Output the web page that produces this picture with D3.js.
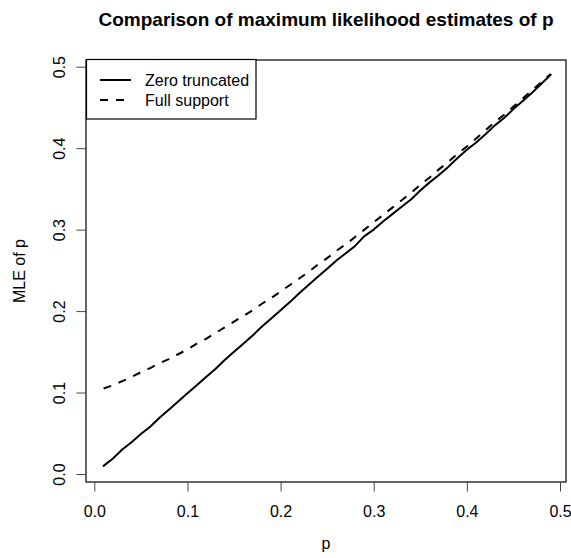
<!DOCTYPE html>
<html><head><meta charset="utf-8">
<script src="https://cdn.jsdelivr.net/npm/d3@7"></script>
<style>body{margin:0;background:#fff}svg{display:block}text{font-family:"Liberation Sans",Arial,Helvetica,sans-serif;fill:#000}</style>
</head><body>
<script>
const pValues = [0.01,0.02,0.03,0.04,0.05,0.06,0.07,0.08,0.09,0.10,0.11,0.12,0.13,0.14,0.15,0.16,0.17,0.18,0.19,0.20,0.21,0.22,0.23,0.24,0.25,0.26,0.27,0.28,0.29,0.30,0.31,0.32,0.33,0.34,0.35,0.36,0.37,0.38,0.39,0.40,0.41,0.42,0.43,0.44,0.45,0.46,0.47,0.48,0.49];
const zeroTruncated = [0.010,0.019,0.030,0.039,0.049,0.058,0.069,0.079,0.089,0.099,0.109,0.119,0.129,0.140,0.150,0.160,0.170,0.181,0.191,0.201,0.211,0.222,0.232,0.242,0.252,0.262,0.271,0.280,0.292,0.300,0.310,0.319,0.328,0.337,0.348,0.358,0.367,0.377,0.388,0.398,0.407,0.417,0.428,0.437,0.448,0.458,0.468,0.479,0.490];
const fullSupport = [0.105,0.109,0.114,0.119,0.125,0.130,0.136,0.141,0.147,0.153,0.160,0.166,0.173,0.180,0.187,0.194,0.201,0.209,0.216,0.224,0.232,0.240,0.248,0.257,0.265,0.274,0.282,0.291,0.300,0.309,0.318,0.327,0.336,0.345,0.355,0.364,0.374,0.383,0.393,0.402,0.412,0.422,0.432,0.441,0.451,0.461,0.471,0.481,0.491];
const xTicks = [0.0,0.1,0.2,0.3,0.4,0.5];
const yTicks = [0.0,0.1,0.2,0.3,0.4,0.5];
const seriesNames = ["Zero truncated","Full support"];
const titleText = "Comparison of maximum likelihood estimates of p";
const xLabel = "p", yLabel = "MLE of p";

const W = 571, H = 558;
const box = {left:86, right:566, top:60, bottom:482};
const svg = d3.select("body").append("svg").attr("width",W).attr("height",H);
const x = d3.scaleLinear().domain([0,0.5]).range([94.3,560]);
const y = d3.scaleLinear().domain([0,0.5]).range([474,66.7]);

// frame
svg.append("rect").attr("x",box.left).attr("y",box.top).attr("width",box.right-box.left).attr("height",box.bottom-box.top)
  .attr("fill","none").attr("stroke","#000").attr("stroke-width",1.2);

// x axis
const xa = svg.append("g").attr("transform",`translate(0,${box.bottom})`)
  .call(d3.axisBottom(x).tickValues(xTicks).tickFormat(d3.format(".1f")).tickSize(9.5).tickPadding(10));
xa.select(".domain").remove();
xa.selectAll("line").attr("stroke","#444");
xa.selectAll("text").attr("font-size","16px").attr("dy",null).attr("y",35).attr("font-family",'"Liberation Sans",Arial,sans-serif');

// y axis
const ya = svg.append("g").attr("transform",`translate(${box.left},0)`)
  .call(d3.axisLeft(y).tickValues(yTicks).tickFormat(d3.format(".1f")).tickSize(9.5));
ya.select(".domain").remove();
ya.selectAll("line").attr("stroke","#444");
ya.selectAll("text").attr("font-size","16px").attr("font-family",'"Liberation Sans",Arial,sans-serif')
  .attr("x",null).attr("dy",null).attr("text-anchor","middle")
  .attr("transform","translate(-21.5,0) rotate(-90)");

// titles
svg.append("text").attr("x",(box.left+box.right)/2).attr("y",26).attr("text-anchor","middle")
  .attr("font-size","19px").attr("font-weight","bold").text(titleText);
svg.append("text").attr("x",(box.left+box.right)/2).attr("y",549).attr("text-anchor","middle")
  .attr("font-size","16px").text(xLabel);
svg.append("text").attr("transform",`translate(24.5,${(box.top+box.bottom)/2}) rotate(-90)`).attr("text-anchor","middle")
  .attr("font-size","16px").text(yLabel);

// lines
const line = d3.line().x((d,i)=>x(pValues[i])).y(d=>y(d));
svg.append("path").datum(zeroTruncated).attr("d",line).attr("fill","none").attr("stroke","#000").attr("stroke-width",2).attr("stroke-linejoin","round").attr("stroke-linecap","round");
svg.append("path").datum(fullSupport).attr("d",line).attr("fill","none").attr("stroke","#000").attr("stroke-width",2).attr("stroke-dasharray","8,8");

// legend
const lg = svg.append("g");
lg.append("rect").attr("x",86.5).attr("y",59.5).attr("width",169.5).attr("height",59.5).attr("fill","#fff").attr("stroke","#000").attr("stroke-width",1.2);
const dashes = [null,"8,8"];
seriesNames.forEach((n,i)=>{
  const yy = 80 + i*20;
  lg.append("line").attr("x1",100).attr("x2",131).attr("y1",yy).attr("y2",yy).attr("stroke","#000").attr("stroke-width",2)
    .attr("stroke-dasharray",dashes[i]);
  lg.append("text").attr("x",145).attr("y",yy+6).attr("font-size","16px").text(n);
});
</script>
</body></html>
